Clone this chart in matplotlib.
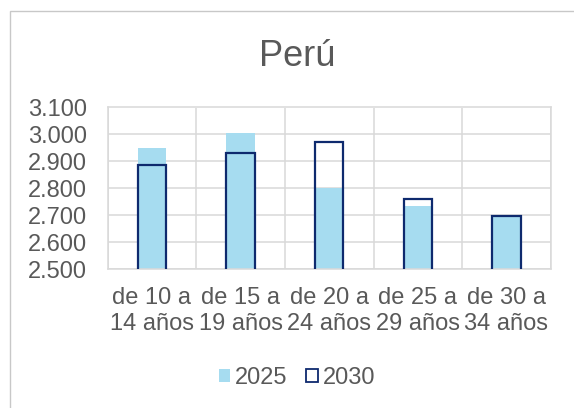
import matplotlib.pyplot as plt
from matplotlib.patches import Patch, Rectangle
from matplotlib.ticker import FuncFormatter, MultipleLocator

plt.rcParams['font.family'] = ['Liberation Sans', 'DejaVu Sans']

grupos = ['de 10 a\n14 años', 'de 15 a\n19 años', 'de 20 a\n24 años',
          'de 25 a\n29 años', 'de 30 a\n34 años']
v2025 = [2950, 3007, 2800, 2736, 2697]
v2030 = [2885, 2933, 2972, 2761, 2698]

gris = '#595959'
celeste = '#a6dcf0'
azul = '#0e2a6e'
rejilla = '#d9d9d9'

fig = plt.figure(figsize=(5.74, 4.08), dpi=100)
# marco exterior del gráfico
fig.patches.append(Rectangle((10 / 574, -0.1), 1.2, 1.1 - 11 / 408,
                             transform=fig.transFigure, fill=False,
                             edgecolor='#c8c8c8', linewidth=1.0))

ax = fig.add_axes([107.7 / 574, 1 - 269.3 / 408, 443 / 574, 161.8 / 408])
x = range(len(grupos))
ax.bar(x, v2025, width=0.32, color=celeste, zorder=2)
ax.bar(x, v2030, width=0.32, facecolor='none', edgecolor=azul,
       linewidth=1.6, zorder=3)

ax.set_xlim(-0.5, 4.5)
ax.set_ylim(2500, 3100)
ax.yaxis.set_major_locator(MultipleLocator(100))
ax.yaxis.set_major_formatter(FuncFormatter(lambda v, p: f'{v:,.0f}'.replace(',', '.')))
ax.set_xticks(list(x))
ax.set_xticklabels(grupos)
ax.set_xticks([i + 0.5 for i in range(-1, 5)], minor=True)
ax.grid(axis='y', which='major', color=rejilla, linewidth=1.1, zorder=0)
ax.grid(axis='x', which='minor', color=rejilla, linewidth=1.1, zorder=0)
ax.set_axisbelow(True)
for s in ax.spines.values():
    s.set_color(rejilla)
    s.set_linewidth(1.1)
ax.tick_params(which='both', length=0, labelsize=17, labelcolor=gris)
ax.tick_params(axis='y', pad=15)
ax.tick_params(axis='x', pad=13)
for t in ax.get_xticklabels():
    t.set_linespacing(1.2)

fig.text(297 / 574, 1 - 57 / 408, 'Perú', ha='center', va='center',
         fontsize=26, color=gris)

handles = [Patch(facecolor=celeste, edgecolor='none', label='2025'),
           Patch(facecolor='white', edgecolor=azul, linewidth=1.3, label='2030')]
fig.legend(handles=handles, loc='center', bbox_to_anchor=(297 / 574, 1 - 378 / 408),
           ncol=2, frameon=False, fontsize=17, labelcolor=gris,
           handlelength=0.5, handleheight=0.5, handletextpad=0.2,
           columnspacing=0.8, borderpad=0)

fig.savefig('out.png', dpi=100)
